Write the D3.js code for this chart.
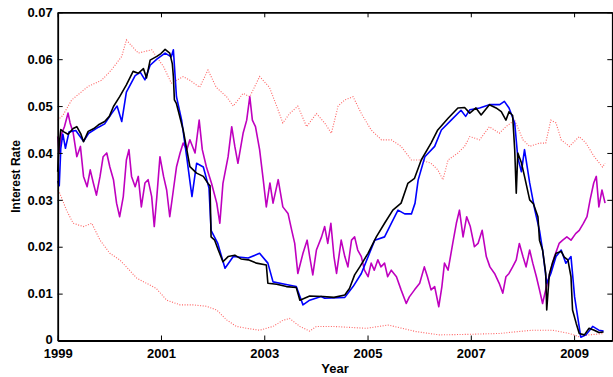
<!DOCTYPE html>
<html>
<head>
<meta charset="utf-8">
<script src="https://cdn.jsdelivr.net/npm/d3@7"></script>
<style>
  body { margin: 0; background: #fff; }
  text { font-family: "Liberation Sans", Arial, sans-serif; font-weight: bold; }
</style>
</head>
<body>
<div id="chart"></div>
<script>
// values: [year, rate]
const blackSeries = [
  [1999.00, 0.036], [1999.03, 0.042], [1999.06, 0.045], [1999.12, 0.0445], [1999.20, 0.044],
  [1999.30, 0.0452], [1999.37, 0.0456], [1999.45, 0.044], [1999.50, 0.0424], [1999.59, 0.0446],
  [1999.70, 0.0452], [1999.79, 0.046], [1999.91, 0.0467], [2000.00, 0.0478], [2000.08, 0.0499],
  [2000.20, 0.052], [2000.33, 0.0545], [2000.46, 0.0574], [2000.56, 0.057], [2000.66, 0.058],
  [2000.72, 0.056], [2000.79, 0.0598], [2000.92, 0.0606], [2001.00, 0.0612], [2001.08, 0.0621],
  [2001.17, 0.0613], [2001.22, 0.059], [2001.24, 0.0563], [2001.26, 0.0513], [2001.30, 0.0505],
  [2001.33, 0.0492], [2001.43, 0.0449], [2001.50, 0.0407], [2001.56, 0.0371], [2001.69, 0.0357],
  [2001.82, 0.035], [2001.91, 0.0335], [2001.95, 0.033], [2001.97, 0.0221], [2002.04, 0.0214],
  [2002.11, 0.0193], [2002.20, 0.0168], [2002.30, 0.0179], [2002.43, 0.0182], [2002.55, 0.0174],
  [2002.69, 0.0172], [2002.85, 0.0165], [2003.04, 0.0161], [2003.07, 0.0122], [2003.24, 0.012],
  [2003.43, 0.0115], [2003.62, 0.0113], [2003.69, 0.0086], [2003.88, 0.0095], [2004.14, 0.0094],
  [2004.35, 0.0092], [2004.56, 0.0097], [2004.65, 0.0111], [2004.75, 0.014], [2004.85, 0.0157],
  [2005.01, 0.0186], [2005.17, 0.0221], [2005.33, 0.025], [2005.49, 0.0278], [2005.65, 0.0293],
  [2005.78, 0.0335], [2005.91, 0.0346], [2006.04, 0.0385], [2006.23, 0.0421], [2006.36, 0.0449],
  [2006.56, 0.0474], [2006.75, 0.0496], [2006.88, 0.0497], [2006.98, 0.0485], [2007.10, 0.0496],
  [2007.20, 0.0481], [2007.36, 0.0503], [2007.49, 0.0496], [2007.59, 0.0488], [2007.68, 0.047],
  [2007.74, 0.0488], [2007.81, 0.048], [2007.85, 0.0407], [2007.88, 0.0314], [2007.91, 0.04],
  [2007.98, 0.0379], [2008.04, 0.035], [2008.14, 0.03], [2008.21, 0.0292], [2008.30, 0.0264],
  [2008.33, 0.0214], [2008.39, 0.0193], [2008.45, 0.0144], [2008.47, 0.0065], [2008.52, 0.0141],
  [2008.58, 0.0165], [2008.65, 0.0186], [2008.75, 0.019], [2008.81, 0.0178], [2008.88, 0.0172],
  [2008.94, 0.0136], [2008.97, 0.0065], [2009.04, 0.0037], [2009.10, 0.0015], [2009.20, 0.0012],
  [2009.29, 0.0026], [2009.39, 0.0022], [2009.48, 0.0017], [2009.57, 0.0018]
];

const blueSeries = [
  [1999.00, 0.034], [1999.03, 0.033], [1999.06, 0.041], [1999.10, 0.044], [1999.15, 0.041],
  [1999.22, 0.0445], [1999.35, 0.0448], [1999.50, 0.0425], [1999.60, 0.0442], [1999.79, 0.0455],
  [1999.91, 0.0462], [2000.05, 0.0485], [2000.15, 0.050], [2000.24, 0.0467], [2000.33, 0.053],
  [2000.50, 0.0565], [2000.60, 0.0572], [2000.69, 0.0556], [2000.79, 0.0587], [2000.92, 0.060],
  [2001.08, 0.0613], [2001.20, 0.0605], [2001.24, 0.062], [2001.30, 0.052], [2001.40, 0.047],
  [2001.50, 0.039], [2001.56, 0.034], [2001.60, 0.0307], [2001.69, 0.0378], [2001.82, 0.037],
  [2001.93, 0.0325], [2001.97, 0.0235], [2002.10, 0.0207], [2002.24, 0.0154], [2002.40, 0.0179],
  [2002.69, 0.0176], [2002.91, 0.0186], [2003.07, 0.0165], [2003.17, 0.0125], [2003.40, 0.012],
  [2003.62, 0.0115], [2003.75, 0.0076], [2003.88, 0.0086], [2004.10, 0.0094], [2004.17, 0.009],
  [2004.56, 0.0092], [2004.72, 0.0115], [2004.88, 0.0143], [2005.14, 0.0214], [2005.33, 0.0221],
  [2005.46, 0.025], [2005.59, 0.0278], [2005.72, 0.027], [2005.85, 0.027], [2005.92, 0.0293],
  [2005.98, 0.0342], [2006.11, 0.0392], [2006.30, 0.0414], [2006.43, 0.0449], [2006.62, 0.047],
  [2006.81, 0.0491], [2006.90, 0.0478], [2006.98, 0.0492], [2007.17, 0.0496], [2007.36, 0.0503],
  [2007.56, 0.0503], [2007.65, 0.051], [2007.74, 0.0496], [2007.85, 0.0464], [2007.91, 0.039],
  [2007.98, 0.036], [2008.04, 0.0407], [2008.14, 0.0336], [2008.24, 0.0278], [2008.33, 0.0235],
  [2008.39, 0.0193], [2008.47, 0.0122], [2008.55, 0.0143], [2008.65, 0.0179], [2008.75, 0.0193],
  [2008.84, 0.0165], [2008.94, 0.0179], [2009.01, 0.0093], [2009.07, 0.005], [2009.13, 0.0007],
  [2009.23, 0.0012], [2009.36, 0.003], [2009.48, 0.0022], [2009.57, 0.002]
];

const magentaSeries = [
  [1999.00, 0.0435], [1999.03, 0.040], [1999.08, 0.0442], [1999.13, 0.0456], [1999.20, 0.0485],
  [1999.24, 0.0464], [1999.30, 0.0443], [1999.37, 0.0392], [1999.44, 0.0414], [1999.50, 0.035],
  [1999.57, 0.0328], [1999.63, 0.0364], [1999.69, 0.0336], [1999.75, 0.031], [1999.82, 0.035],
  [1999.88, 0.0392], [1999.95, 0.040], [2000.01, 0.037], [2000.08, 0.0343], [2000.14, 0.0293],
  [2000.20, 0.0264], [2000.27, 0.0307], [2000.33, 0.0385], [2000.38, 0.0407], [2000.43, 0.035],
  [2000.50, 0.0328], [2000.56, 0.035], [2000.62, 0.0285], [2000.69, 0.0336], [2000.75, 0.0343],
  [2000.82, 0.0307], [2000.87, 0.0243], [2000.92, 0.0307], [2000.98, 0.0392], [2001.05, 0.035],
  [2001.11, 0.0321], [2001.17, 0.0264], [2001.24, 0.0321], [2001.30, 0.037], [2001.37, 0.040],
  [2001.43, 0.0421], [2001.50, 0.0407], [2001.56, 0.0428], [2001.66, 0.040], [2001.74, 0.047],
  [2001.80, 0.0407], [2001.88, 0.037], [2001.98, 0.0335], [2002.08, 0.0293], [2002.14, 0.025],
  [2002.20, 0.0335], [2002.30, 0.0392], [2002.37, 0.0456], [2002.43, 0.0414], [2002.49, 0.0378],
  [2002.59, 0.0442], [2002.66, 0.047], [2002.72, 0.052], [2002.77, 0.047], [2002.83, 0.0456],
  [2002.91, 0.0407], [2002.98, 0.0343], [2003.04, 0.0285], [2003.11, 0.0336], [2003.17, 0.0293],
  [2003.27, 0.0343], [2003.36, 0.0285], [2003.46, 0.0271], [2003.53, 0.0236], [2003.59, 0.0207],
  [2003.65, 0.0143], [2003.75, 0.0186], [2003.83, 0.0214], [2003.88, 0.0179], [2003.94, 0.014],
  [2004.01, 0.0193], [2004.11, 0.0221], [2004.17, 0.0243], [2004.23, 0.0207], [2004.29, 0.025],
  [2004.35, 0.0179], [2004.40, 0.0143], [2004.49, 0.0214], [2004.56, 0.0179], [2004.62, 0.0157],
  [2004.69, 0.0214], [2004.75, 0.0221], [2004.81, 0.0193], [2004.88, 0.0179], [2004.94, 0.015],
  [2005.01, 0.0136], [2005.07, 0.0165], [2005.13, 0.015], [2005.20, 0.0172], [2005.26, 0.0157],
  [2005.33, 0.0165], [2005.39, 0.0136], [2005.46, 0.015], [2005.56, 0.0136], [2005.65, 0.0108],
  [2005.75, 0.0079], [2005.81, 0.0093], [2005.91, 0.0108], [2006.01, 0.0122], [2006.10, 0.0157],
  [2006.16, 0.0136], [2006.23, 0.0108], [2006.30, 0.0115], [2006.38, 0.0072], [2006.44, 0.0115],
  [2006.49, 0.0165], [2006.56, 0.015], [2006.65, 0.0207], [2006.72, 0.025], [2006.78, 0.0278],
  [2006.85, 0.0221], [2006.92, 0.0264], [2006.99, 0.0243], [2007.07, 0.020], [2007.14, 0.0207],
  [2007.22, 0.0235], [2007.30, 0.0179], [2007.37, 0.0157], [2007.46, 0.0143], [2007.55, 0.0122],
  [2007.62, 0.0101], [2007.68, 0.0136], [2007.74, 0.0143], [2007.81, 0.0157], [2007.88, 0.0172],
  [2007.94, 0.0207], [2008.01, 0.0179], [2008.07, 0.0157], [2008.14, 0.0193], [2008.20, 0.0165],
  [2008.27, 0.0136], [2008.33, 0.0108], [2008.39, 0.0079], [2008.45, 0.0108], [2008.53, 0.0143],
  [2008.62, 0.0179], [2008.71, 0.0207], [2008.78, 0.0214], [2008.86, 0.0221], [2008.94, 0.0214],
  [2009.03, 0.0228], [2009.10, 0.0235], [2009.18, 0.025], [2009.25, 0.0264], [2009.31, 0.030],
  [2009.38, 0.0336], [2009.43, 0.035], [2009.48, 0.0285], [2009.54, 0.0321], [2009.60, 0.0293]
];

const upperBand = [
  [1999.00, 0.047], [1999.10, 0.048], [1999.27, 0.0513], [1999.59, 0.0542], [1999.85, 0.0555],
  [2000.04, 0.0577], [2000.24, 0.0606], [2000.33, 0.0641], [2000.56, 0.0613], [2000.82, 0.062],
  [2001.05, 0.0584], [2001.20, 0.0549], [2001.43, 0.0563], [2001.56, 0.0555], [2001.75, 0.054],
  [2001.91, 0.0577], [2002.07, 0.054], [2002.27, 0.052], [2002.40, 0.050], [2002.59, 0.0527],
  [2002.72, 0.052], [2002.91, 0.0563], [2003.10, 0.054], [2003.24, 0.050], [2003.36, 0.0464],
  [2003.49, 0.0484], [2003.65, 0.050], [2003.82, 0.0456], [2004.01, 0.0484], [2004.17, 0.0464],
  [2004.30, 0.0442], [2004.43, 0.050], [2004.56, 0.0513], [2004.72, 0.052], [2004.88, 0.0484],
  [2005.07, 0.0449], [2005.27, 0.0428], [2005.46, 0.0428], [2005.65, 0.0414], [2005.85, 0.0385],
  [2006.04, 0.0385], [2006.23, 0.0378], [2006.36, 0.0364], [2006.46, 0.0343], [2006.56, 0.0385],
  [2006.75, 0.040], [2006.88, 0.0414], [2006.98, 0.0435], [2007.17, 0.0428], [2007.36, 0.0456],
  [2007.55, 0.0442], [2007.68, 0.0456], [2007.85, 0.047], [2008.01, 0.0428], [2008.14, 0.0414],
  [2008.33, 0.0421], [2008.45, 0.0421], [2008.55, 0.047], [2008.65, 0.0464], [2008.75, 0.0428],
  [2008.91, 0.0414], [2009.10, 0.0435], [2009.23, 0.0421], [2009.39, 0.0392], [2009.55, 0.037],
  [2009.60, 0.0378]
];

const lowerBand = [
  [1999.00, 0.032], [1999.04, 0.0314], [1999.17, 0.0278], [1999.30, 0.025], [1999.50, 0.0243],
  [1999.66, 0.025], [1999.82, 0.0214], [2000.01, 0.0186], [2000.20, 0.0172], [2000.33, 0.0157],
  [2000.53, 0.0133], [2000.72, 0.0122], [2000.91, 0.0111], [2001.11, 0.0086], [2001.37, 0.0076],
  [2001.62, 0.0076], [2001.88, 0.0073], [2002.08, 0.0065], [2002.27, 0.0044], [2002.46, 0.003],
  [2002.66, 0.0026], [2002.91, 0.0022], [2003.17, 0.003], [2003.36, 0.0043], [2003.49, 0.0047],
  [2003.69, 0.003], [2003.88, 0.002], [2004.01, 0.003], [2004.33, 0.003], [2004.98, 0.0026],
  [2005.40, 0.0033], [2005.94, 0.0019], [2006.39, 0.0012], [2006.90, 0.0013], [2007.55, 0.0015],
  [2008.20, 0.0022], [2008.58, 0.0022], [2008.91, 0.0015], [2009.10, 0.0008], [2009.29, 0.0012],
  [2009.57, 0.0015]
];

const xTicks = [1999, 2001, 2003, 2005, 2007, 2009];
const yTicks = [0, 0.01, 0.02, 0.03, 0.04, 0.05, 0.06, 0.07];

const width = 613;
const height = 377;
const plotLeft = 57.7, plotRight = 612.3, plotTop = 12.3, plotBottom = 340.5;

const svg = d3.select('#chart').append('svg')
  .attr('width', width)
  .attr('height', height);

const x = d3.scaleLinear().domain([1999, 2009.74]).range([plotLeft, plotRight]);
const y = d3.scaleLinear().domain([0, 0.07]).range([plotBottom, plotTop]);

const line = d3.line()
  .x(d => x(d[0]))
  .y(d => y(d[1]));

const plot = svg.append('g');

// bands first, then the rates
[upperBand, lowerBand].forEach(band => {
  plot.append('path')
    .datum(band)
    .attr('fill', 'none')
    .attr('stroke', '#ff2020')
    .attr('stroke-opacity', 0.7)
    .attr('stroke-width', 1.1)
    .attr('stroke-dasharray', '1,1.6')
    .attr('d', line);
});

plot.append('path')
  .datum(magentaSeries)
  .attr('fill', 'none')
  .attr('stroke', '#bf00bf')
  .attr('stroke-width', 1.6)
  .attr('stroke-linejoin', 'round')
  .attr('d', line);

plot.append('path')
  .datum(blueSeries)
  .attr('fill', 'none')
  .attr('stroke', '#0000ff')
  .attr('stroke-width', 1.6)
  .attr('stroke-linejoin', 'round')
  .attr('d', line);

plot.append('path')
  .datum(blackSeries)
  .attr('fill', 'none')
  .attr('stroke', '#000')
  .attr('stroke-width', 1.6)
  .attr('stroke-linejoin', 'round')
  .attr('d', line);

// axes: inward ticks on all four sides, labels on left and bottom
const fmtY = d => d === 0 ? '0' : d3.format('.2f')(d);

const axB = svg.append('g')
  .attr('transform', `translate(0,${plotBottom})`)
  .call(d3.axisBottom(x).tickValues(xTicks).tickFormat(d3.format('d'))
    .tickSizeInner(-5).tickSizeOuter(0).tickPadding(8));
const axL = svg.append('g')
  .attr('transform', `translate(${plotLeft},0)`)
  .call(d3.axisLeft(y).tickValues(yTicks).tickFormat(fmtY)
    .tickSizeInner(-5).tickSizeOuter(0).tickPadding(5));
const axT = svg.append('g')
  .attr('transform', `translate(0,${plotTop})`)
  .call(d3.axisTop(x).tickValues(xTicks).tickFormat('')
    .tickSizeInner(-5).tickSizeOuter(0));
const axR = svg.append('g')
  .attr('transform', `translate(${plotRight},0)`)
  .call(d3.axisRight(y).tickValues(yTicks).tickFormat('')
    .tickSizeInner(-5).tickSizeOuter(0));

[axB, axL, axT, axR].forEach(a => {
  a.select('.domain').attr('stroke', '#000').attr('stroke-width', 1.8);
  a.selectAll('.tick line').attr('stroke', '#000').attr('stroke-width', 1);
  a.selectAll('text')
    .attr('fill', '#000')
    .style('font-size', '13px')
    .style('font-weight', 'bold')
    .style('font-family', '"Liberation Sans", Arial, sans-serif');
});

// the "0" label sits just above the x labels, as in the reference
axL.selectAll('.tick text').filter(d => d === 0).attr('dy', '0.2em');

svg.append('text')
  .attr('x', (plotLeft + plotRight) / 2)
  .attr('y', 373)
  .attr('text-anchor', 'middle')
  .style('font-size', '13px')
  .text('Year');

svg.append('text')
  .attr('transform', `translate(20,${(plotTop + plotBottom) / 2}) rotate(-90)`)
  .attr('text-anchor', 'middle')
  .style('font-size', '12px')
  .text('Interest Rate');
</script>
</body>
</html>
